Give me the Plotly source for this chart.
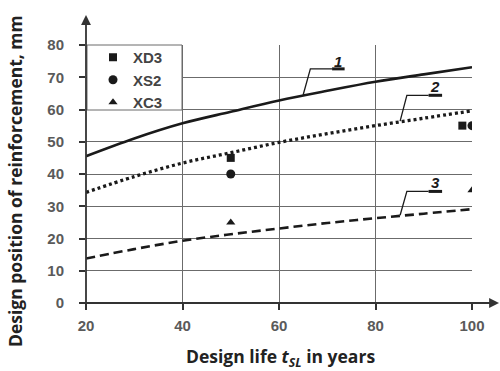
import plotly.graph_objects as go

# ---- data ----
years = [20, 30, 40, 50, 60, 70, 80, 90, 100]
curve1 = [45.5, 51.0, 55.7, 59.3, 62.8, 65.8, 68.6, 70.9, 73.1]
curve2 = [34.3, 39.2, 43.4, 46.6, 49.8, 52.5, 55.0, 57.3, 59.6]
curve3 = [13.8, 16.7, 19.3, 21.3, 23.1, 24.8, 26.3, 27.7, 29.1]

xd3_x = [50, 98]
xd3_y = [45, 55]
xs2_x = [50, 100]
xs2_y = [40, 55]
xc3_x = [50, 100]
xc3_y = [25, 35]

x_ticks = [20, 40, 60, 80, 100]
y_ticks = [0, 10, 20, 30, 40, 50, 60, 70, 80]

# curve label leaders: (label, start on curve, corner, bar start, bar end, text pos)
leaders = [
    ("1", (65.0, 64.5), (66.5, 72.6), 71.0, 73.6, (72.3, 75.0)),
    ("2", (85.1, 56.4), (86.5, 64.4), 91.0, 93.8, (92.4, 67.2)),
    ("3", (85.1, 27.2), (86.5, 34.6), 91.0, 93.8, (92.4, 37.5)),
]

INK = "#1a1a1a"
GRID = "#6b6b6b"
TICKC = "#5a5a5a"

# plot area in pixels
L, R, T, B = 86, 28, 45, 68
PW, PH = 500 - L - R, 371 - T - B


def px_x(px):
    return (px - L) / PW


def px_y(py):
    return (371 - B - py) / PH


fig = go.Figure()

fig.add_trace(go.Scatter(x=years, y=curve1, mode="lines", showlegend=False,
                         line=dict(color=INK, width=2.6, shape="spline")))
fig.add_trace(go.Scatter(x=years, y=curve2, mode="lines", showlegend=False,
                         line=dict(color=INK, width=3.3, dash="3px,3px", shape="spline")))
fig.add_trace(go.Scatter(x=years, y=curve3, mode="lines", showlegend=False,
                         line=dict(color=INK, width=2.6, dash="9px,5px", shape="spline")))

fig.add_trace(go.Scatter(x=xd3_x, y=xd3_y, mode="markers", name="XD3",
                         marker=dict(symbol="square", size=8, color=INK)))
fig.add_trace(go.Scatter(x=xs2_x, y=xs2_y, mode="markers", name="XS2",
                         marker=dict(symbol="circle", size=9, color=INK)))
fig.add_trace(go.Scatter(x=xc3_x, y=xc3_y, mode="markers", name="XC3",
                         marker=dict(symbol="triangle-up", size=8, color=INK)))

shapes = []
annotations = []

# legend frame
shapes.append(dict(type="rect", xref="paper", yref="paper", layer="above",
                   x0=px_x(87), x1=px_x(182), y0=px_y(110), y1=px_y(45),
                   fillcolor="white", line=dict(color=GRID, width=1)))

for lab, p0, p1, b0, b1, tp in leaders:
    shapes.append(dict(type="path", xref="x", yref="y",
                       path=f"M{p0[0]},{p0[1]} L{p1[0]},{p1[1]} L{b0},{p1[1]}",
                       line=dict(color=INK, width=1.3)))
    shapes.append(dict(type="line", xref="x", yref="y", x0=b0, x1=b1, y0=p1[1], y1=p1[1],
                       line=dict(color=INK, width=3)))
    annotations.append(dict(x=tp[0], y=tp[1], xref="x", yref="y", text=f"<b><i>{lab}</i></b>",
                            xanchor="center", yanchor="middle",
                            showarrow=False, font=dict(family="Liberation Sans", size=15, color=INK)))

# axis arrows
annotations.append(dict(x=0, y=px_y(15), xref="paper", yref="paper", ax=0, ay=294,
                        axref="pixel", ayref="pixel", text="", showarrow=True,
                        arrowhead=2, arrowsize=1.1, arrowwidth=1.8, arrowcolor="#333"))
annotations.append(dict(x=px_x(500), y=0, xref="paper", yref="paper", ax=-420, ay=0,
                        axref="pixel", ayref="pixel", text="", showarrow=True,
                        arrowhead=2, arrowsize=1.1, arrowwidth=1.8, arrowcolor="#333"))

# axis titles
annotations.append(dict(x=px_x(15), y=px_y(181), xref="paper", yref="paper",
                        xanchor="center", yanchor="middle",
                        text="<b>Design position of reinforcement, mm</b>", textangle=-90,
                        showarrow=False, font=dict(family="Open Sans", size=17.5, color="#222")))
annotations.append(dict(x=px_x(280), y=px_y(357), xref="paper", yref="paper",
                        xanchor="center", yanchor="middle",
                        text="<b>Design life <i>t</i><sub><i>SL</i></sub> in years</b>",
                        showarrow=False, font=dict(family="Open Sans", size=17.5, color="#222")))

fig.update_layout(
    width=500, height=371,
    margin=dict(l=L, r=R, t=T, b=B),
    paper_bgcolor="white", plot_bgcolor="white",
    shapes=shapes, annotations=annotations,
    showlegend=True,
    legend=dict(x=px_x(93), y=px_y(41), xanchor="left", yanchor="top",
                bgcolor="rgba(0,0,0,0)", borderwidth=0,
                font=dict(family="Liberation Sans", size=15, color="#444", weight="bold"),
                itemwidth=30, tracegroupgap=0),
    xaxis=dict(range=[20, 100], tickvals=x_ticks, showgrid=True, gridcolor=GRID, gridwidth=1,
               zeroline=False, showline=False, ticks="outside", ticklen=6, tickcolor="#333",
               tickwidth=1.5, ticklabelstandoff=3,
               tickfont=dict(family="Liberation Sans", size=15, color=TICKC, weight="bold")),
    yaxis=dict(range=[0, 80], tickvals=y_ticks, showgrid=True, gridcolor=GRID, gridwidth=1,
               zeroline=False, showline=False, ticks="outside", ticklen=6, tickcolor="#333",
               tickwidth=1.5, ticklabelstandoff=12,
               tickfont=dict(family="Liberation Sans", size=15, color=TICKC, weight="bold")),
)

fig.write_html("out.html")
